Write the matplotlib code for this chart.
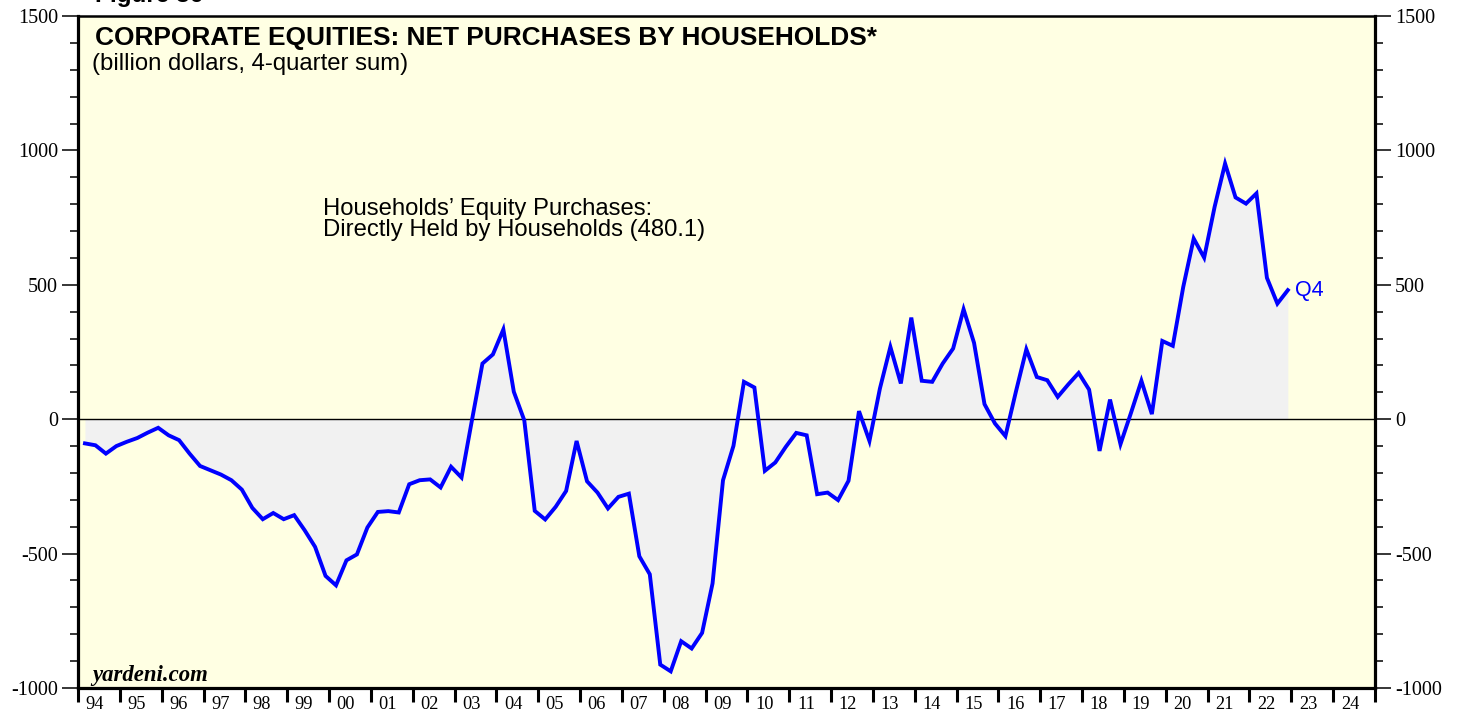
import matplotlib
matplotlib.use("Agg")
import matplotlib.pyplot as plt
import numpy as np
from matplotlib.ticker import MultipleLocator, FixedLocator, NullFormatter

plt.rcParams["axes.unicode_minus"] = False

# ---- data (billion dollars, 4-quarter sum), quarterly 1994Q1..2022Q4 ----
years = list(range(1994, 2023))
values = [
    -90, -97, -128, -100,      # 1994
    -84, -70, -50, -32,        # 1995
    -60, -78, -128, -174,      # 1996
    -190, -206, -227, -262,    # 1997
    -330, -372, -349, -372,    # 1998
    -357, -413, -475, -583,    # 1999
    -618, -525, -503, -403,    # 2000
    -345, -342, -347, -242,    # 2001
    -227, -224, -254, -177,    # 2002
    -217, -3, 207, 241,        # 2003
    334, 102, -4, -341,        # 2004
    -373, -326, -267, -81,     # 2005
    -231, -273, -332, -289,    # 2006
    -277, -510, -577, -913,    # 2007
    -938, -826, -853, -795,    # 2008
    -611, -227, -99, 139,      # 2009
    118, -192, -161, -103,     # 2010
    -51, -60, -279, -273,      # 2011
    -301, -229, 30, -81,       # 2012
    114, 269, 133, 378,        # 2013
    143, 139, 207, 263,        # 2014
    409, 284, 56, -16,         # 2015
    -63, 102, 260, 157,        # 2016
    145, 83, 129, 172,         # 2017
    110, -118, 73, -93,        # 2018
    23, 143, 19, 291,          # 2019
    273, 492, 672, 601,        # 2020
    790, 951, 825, 802,        # 2021
    840, 526, 430, 480.1,      # 2022
]
quarters = [1, 2, 3, 4]
axis_years = list(range(1994, 2026))
year_labels = [f"{y % 100:02d}" for y in range(1994, 2025)]

title = "CORPORATE EQUITIES: NET PURCHASES BY HOUSEHOLDS*"
subtitle = "(billion dollars, 4-quarter sum)"
series_label = "Households\u2019 Equity Purchases:\nDirectly Held by Households (480.1)"

# dates: end-of-quarter month position within year
x = np.array([y + (3 * q - 1) / 12 for y in years for q in quarters])
v = np.array(values, dtype=float)

W, H = 1462, 717
fig = plt.figure(figsize=(W / 100, H / 100), dpi=100)
ax = fig.add_axes([78 / W, (H - 688) / H, (1375 - 78) / W, (688 - 16) / H])
ax.set_facecolor("#FFFFE3")

ax.set_xlim(1994, 2025)
ax.set_ylim(-1000, 1500)

ax.fill_between(x, 0, v, color="#F1F1F1", lw=0, zorder=1)
ax.axhline(0, color="black", lw=1.0, zorder=2)
ax.plot(x, v, color="#0000FF", lw=2.8, zorder=3, solid_joinstyle="miter")

# spines
for s in ax.spines.values():
    s.set_linewidth(2.3)
    s.set_color("black")
ax.spines["top"].set_linewidth(1.8)

serif = "Liberation Serif"
sans = "Liberation Sans"

# y ticks both sides, outward
ax.yaxis.set_major_locator(MultipleLocator(500))
ax.yaxis.set_minor_locator(MultipleLocator(100))
ax.tick_params(axis="y", which="major", direction="out", length=11.5, width=1.1,
               left=True, right=True, labelleft=True, labelright=True,
               labelsize=14.5, pad=3)
ax.tick_params(axis="y", which="minor", direction="out", length=6, width=1.1,
               left=True, right=True)
for lab in ax.get_yticklabels():
    lab.set_fontfamily(serif)

# x ticks: year boundaries, labels centred in years
ax.xaxis.set_major_locator(FixedLocator(axis_years))
ax.xaxis.set_major_formatter(NullFormatter())
ax.tick_params(axis="x", which="major", direction="out", length=10, width=2.2,
               bottom=True, top=False)
ax.xaxis.set_minor_locator(FixedLocator([y + 0.4 for y in range(1994, 2025)]))
ax.set_xticklabels(year_labels, minor=True)
ax.tick_params(axis="x", which="minor", length=0, labelsize=13.2, pad=6)
for lab in ax.get_xticklabels(minor=True):
    lab.set_fontfamily(serif)

# texts
fig.text(95 / W, 1 - 26 / H, title, fontsize=18.9, fontweight="bold",
         family=sans, va="top", ha="left")
fig.text(92 / W, 1 - 53 / H, subtitle, fontsize=17.2, family=sans, va="top", ha="left")
fig.text(323 / W, 1 - 198 / H, series_label, fontsize=17.2, family=sans,
         va="top", ha="left", linespacing=0.95)
fig.text(92 / W, 1 - 681 / H, "yardeni.com", fontsize=16.4, family=serif,
         fontweight="bold", style="italic", va="baseline", ha="left")
ax.annotate("Q4", xy=(x[-1], v[-1]), xytext=(5, 0), textcoords="offset points",
            color="#0000FF", fontsize=15.5, family=sans, va="center", ha="left")
fig.text(95 / W, 1 - 2 / H, "Figure 36", fontsize=17.5, family=sans,
         fontweight="bold", va="baseline", ha="left")

fig.savefig("out.png", dpi=100, facecolor="white")
